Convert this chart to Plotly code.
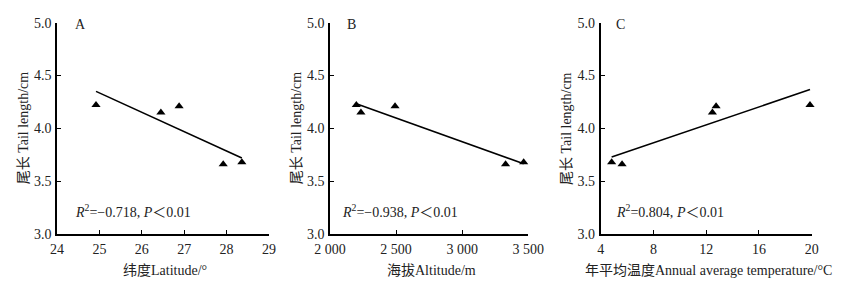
import plotly.graph_objects as go

# Tail length (cm) for five populations
tail_len_a = [4.22, 4.15, 4.21, 3.66, 3.68]
latitude = [24.92, 26.45, 26.88, 27.92, 28.36]
altitude = [2199, 2234, 2492, 3328, 3465]
tail_len_b = [4.22, 4.15, 4.21, 3.66, 3.68]
temperature = [12.75, 12.47, 19.87, 5.62, 4.83]
tail_len_c = [4.21, 4.15, 4.22, 3.66, 3.68]

# Regression line endpoints
fit_a_x = [24.92, 28.36]
fit_a_y = [4.35, 3.72]
fit_b_x = [2199, 3465]
fit_b_y = [4.234, 3.665]
fit_c_x = [4.83, 19.87]
fit_c_y = [3.728, 4.367]

panel_labels = ["A", "B", "C"]
stats_text = [
    "<i>R</i><sup>2</sup>=−0.718, <i>P</i>＜0.01",
    "<i>R</i><sup>2</sup>=−0.938, <i>P</i>＜0.01",
    "<i>R</i><sup>2</sup>=0.804, <i>P</i>＜0.01",
]
x_titles = ["纬度Latitude/°", "海拔Altitude/m", "年平均温度Annual average temperature/°C"]
y_title = "尾长 Tail length/cm"

y_ticks = [3.0, 3.5, 4.0, 4.5, 5.0]
y_ticktext = ["3.0", "3.5", "4.0", "4.5", "5.0"]
x_ticks_a = [24, 25, 26, 27, 28, 29]
x_ticks_b = [2000, 2500, 3000, 3500]
x_ticktext_b = ["2 000", "2 500", "3 000", "3 500"]
x_ticks_c = [4, 8, 12, 16, 20]

FONT = "'Liberation Serif', 'Noto Sans CJK SC', serif"
TXT = "#222222"

fig = go.Figure()

data = [
    (latitude, tail_len_a, fit_a_x, fit_a_y, "x", "y"),
    (altitude, tail_len_b, fit_b_x, fit_b_y, "x2", "y2"),
    (temperature, tail_len_c, fit_c_x, fit_c_y, "x3", "y3"),
]
for xs, ys, fx, fy, xa, ya in data:
    fig.add_trace(go.Scatter(x=fx, y=fy, mode="lines", line=dict(color="black", width=1.6),
                             xaxis=xa, yaxis=ya, showlegend=False, hoverinfo="skip",
                             cliponaxis=False))
    fig.add_trace(go.Scatter(x=xs, y=ys, mode="markers",
                             marker=dict(symbol="triangle-up", size=8, color="black"),
                             xaxis=xa, yaxis=ya, showlegend=False, cliponaxis=False))

# page body adds an 8px offset; figure coordinates are reference pixels minus 8
OFF = 8
W, H = 838, 288
ax_left = [57, 330, 600.7]
ax_right = [269, 528.3, 811.7]
y_top, y_bot = 22.7, 234
doms = [((l - OFF) / W, (r - OFF) / W) for l, r in zip(ax_left, ax_right)]
ydom = (1 - (y_bot - OFF) / H, 1 - (y_top - OFF) / H)

common_axis = dict(
    showline=True, linecolor="black", linewidth=1.6, ticks="inside", ticklen=4,
    tickwidth=1.2, tickcolor="black", showgrid=False, zeroline=False, automargin=False,
    tickfont=dict(family=FONT, size=14, color=TXT),
)

xranges = [[24, 29], [2000, 3500], [4, 20]]
xtickvals = [x_ticks_a, x_ticks_b, x_ticks_c]
xticktexts = [[str(v) for v in x_ticks_a], x_ticktext_b, [str(v) for v in x_ticks_c]]

layout = dict(
    width=W, height=H, margin=dict(l=0, r=0, t=0, b=0, autoexpand=False),
    plot_bgcolor="white", paper_bgcolor="white",
    font=dict(family=FONT, color=TXT),
)
for i in range(3):
    sx = "" if i == 0 else str(i + 1)
    layout["xaxis" + sx] = dict(
        common_axis, domain=list(doms[i]), range=xranges[i], anchor="y" + sx,
        tickvals=xtickvals[i], ticktext=xticktexts[i], ticklabelstandoff=1,
    )
    layout["yaxis" + sx] = dict(
        common_axis, domain=list(ydom), range=[3.0, 5.0], anchor="x" + sx,
        tickvals=y_ticks, ticktext=y_ticktext, ticklabelstandoff=1,
    )
fig.update_layout(**layout)

label_x = [24.37, 2113, 5.0]
stats_x = [24.38, 2076, 5.03]
ymid = 1 - ((y_top + y_bot) / 2 - OFF) / H
for i in range(3):
    sx = "" if i == 0 else str(i + 1)
    fig.add_annotation(x=label_x[i], y=4.985, xref="x" + sx, yref="y" + sx, text=panel_labels[i],
                       showarrow=False, xanchor="left", yanchor="middle",
                       font=dict(family=FONT, size=14, color=TXT))
    fig.add_annotation(x=stats_x[i], y=3.22, xref="x" + sx, yref="y" + sx, text=stats_text[i],
                       showarrow=False, xanchor="left", yanchor="middle",
                       font=dict(family=FONT, size=14, color=TXT))
    # y-axis title
    fig.add_annotation(x=(ax_left[i] - 34 - OFF) / W, y=ymid, xref="paper", yref="paper",
                       text=y_title, textangle=-90, showarrow=False,
                       xanchor="center", yanchor="middle",
                       font=dict(family=FONT, size=14, color=TXT))
    # x-axis title
    fig.add_annotation(x=((ax_left[i] + ax_right[i]) / 2 + 2 - OFF) / W,
                       y=1 - (270 - OFF) / H, xref="paper", yref="paper",
                       text=x_titles[i], showarrow=False,
                       xanchor="center", yanchor="middle",
                       font=dict(family=FONT, size=14, color=TXT))

fig.write_html("out.html")
